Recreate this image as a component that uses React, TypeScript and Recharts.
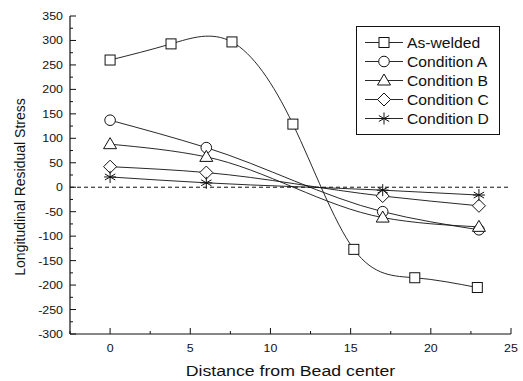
import React from "react";
import { LineChart, Line, XAxis, YAxis, ReferenceLine, Label } from "recharts";

document.body.style.margin = "0";

const X_TICKS = [-2.5, 0, 2.5, 5, 7.5, 10, 12.5, 15, 17.5, 20, 22.5, 25];
const Y_TICKS = [
  -300, -275, -250, -225, -200, -175, -150, -125, -100, -75, -50, -25, 0, 25,
  50, 75, 100, 125, 150, 175, 200, 225, 250, 275, 300, 325, 350,
];

const AS_WELDED = [
  { x: 0, y: 260 },
  { x: 3.8, y: 293 },
  { x: 7.6, y: 297 },
  { x: 11.4, y: 129 },
  { x: 15.2, y: -127 },
  { x: 19, y: -185 },
  { x: 22.9, y: -205 },
];
const COND_A = [
  { x: 0, y: 137 },
  { x: 6, y: 81 },
  { x: 17, y: -50 },
  { x: 23, y: -87 },
];
const COND_B = [
  { x: 0, y: 88 },
  { x: 6, y: 62 },
  { x: 17, y: -62 },
  { x: 23, y: -81 },
];
const COND_C = [
  { x: 0, y: 42 },
  { x: 6, y: 30 },
  { x: 17, y: -18 },
  { x: 23, y: -38 },
];
const COND_D = [
  { x: 0, y: 21 },
  { x: 6, y: 9 },
  { x: 17, y: -6 },
  { x: 23, y: -16 },
];

const FONT = "'Liberation Sans', Arial, sans-serif";
const INK = "#111";
// the scan is a little wider than tall, so horizontal text gets stretched
const STRETCH = 1.18;

type Shape = "square" | "circle" | "triangle" | "diamond" | "star";

function Marker({ cx, cy, shape }: { cx: number; cy: number; shape: Shape }) {
  const common = { stroke: INK, strokeWidth: 1, fill: "#fff" };
  if (shape === "square")
    return <rect x={cx - 5} y={cy - 5} width={10} height={10} {...common} />;
  if (shape === "circle") return <circle cx={cx} cy={cy} r={5.3} {...common} />;
  if (shape === "triangle")
    return (
      <polygon
        points={`${cx},${cy - 6.5} ${cx - 6.5},${cy + 4.5} ${cx + 6.5},${cy + 4.5}`}
        {...common}
      />
    );
  if (shape === "diamond")
    return (
      <polygon
        points={`${cx},${cy - 6.5} ${cx + 6.5},${cy} ${cx},${cy + 6.5} ${cx - 6.5},${cy}`}
        {...common}
      />
    );
  const r = 6;
  const dx = r * Math.cos(Math.PI / 6);
  const dy = r * Math.sin(Math.PI / 6);
  return (
    <g stroke={INK} strokeWidth={1}>
      <line x1={cx} y1={cy - r} x2={cx} y2={cy + r} />
      <line x1={cx - dx} y1={cy - dy} x2={cx + dx} y2={cy + dy} />
      <line x1={cx - dx} y1={cy + dy} x2={cx + dx} y2={cy - dy} />
      <line x1={cx - r} y1={cy} x2={cx + r} y2={cy} />
    </g>
  );
}

const SERIES: {
  name: string;
  data: { x: number; y: number }[];
  shape: Shape;
  curve: "natural" | "monotoneX";
}[] = [
  { name: "As-welded", data: AS_WELDED, shape: "square", curve: "natural" },
  { name: "Condition A", data: COND_A, shape: "circle", curve: "monotoneX" },
  { name: "Condition B", data: COND_B, shape: "triangle", curve: "monotoneX" },
  { name: "Condition C", data: COND_C, shape: "diamond", curve: "monotoneX" },
  { name: "Condition D", data: COND_D, shape: "star", curve: "monotoneX" },
];

const isMajorX = (v: number) => v % 5 === 0;
const isMajorY = (v: number) => v % 50 === 0;

function WideText({
  x,
  y,
  anchor,
  size,
  children,
}: {
  x: number;
  y: number;
  anchor: "start" | "middle" | "end";
  size: number;
  children: React.ReactNode;
}) {
  return (
    <text
      transform={`translate(${x} ${y}) scale(${STRETCH} 1)`}
      textAnchor={anchor}
      fontSize={size}
      fill={INK}
      fontFamily={FONT}
    >
      {children}
    </text>
  );
}

// eslint-disable-next-line @typescript-eslint/no-explicit-any
const BottomTick = ({ x, y, payload }: any) => {
  const major = isMajorX(payload.value);
  return (
    <g>
      <line x1={x} x2={x} y1={y} y2={y - (major ? 6 : 3)} stroke={INK} />
      {major && (
        <WideText x={x} y={y + 18} anchor="middle" size={10.5}>
          {payload.value}
        </WideText>
      )}
    </g>
  );
};
// eslint-disable-next-line @typescript-eslint/no-explicit-any
const TopTick = ({ x, y, payload }: any) => (
  <line x1={x} x2={x} y1={y} y2={y + (isMajorX(payload.value) ? 6 : 3)} stroke={INK} />
);
// eslint-disable-next-line @typescript-eslint/no-explicit-any
const LeftTick = ({ x, y, payload }: any) => {
  const major = isMajorY(payload.value);
  return (
    <g>
      <line x1={x} x2={x + (major ? 6 : 3)} y1={y} y2={y} stroke={INK} />
      {major && (
        <WideText x={x - 7} y={y + 4} anchor="end" size={10.5}>
          {payload.value}
        </WideText>
      )}
    </g>
  );
};
// eslint-disable-next-line @typescript-eslint/no-explicit-any
const RightTick = ({ x, y, payload }: any) => (
  <line x1={x} x2={x - (isMajorY(payload.value) ? 6 : 3)} y1={y} y2={y} stroke={INK} />
);

function LegendBox() {
  return (
    <div
      style={{
        position: "absolute",
        left: 356,
        top: 26,
        width: 144,
        height: 109,
        border: `1px solid ${INK}`,
        background: "#fff",
        fontFamily: FONT,
        fontSize: 14.5,
        color: INK,
        boxSizing: "border-box",
        paddingTop: 6,
      }}
    >
      {SERIES.map((s) => (
        <div key={s.name} style={{ display: "flex", alignItems: "center", height: 19 }}>
          <svg width={50} height={19} style={{ display: "block", flex: "none" }}>
            <line x1={8} x2={46} y1={9.5} y2={9.5} stroke={INK} strokeWidth={0.9} />
            <Marker cx={27} cy={9.5} shape={s.shape} />
          </svg>
          <span
            style={{
              display: "inline-block",
              whiteSpace: "nowrap",
              transform: "scaleX(1.08)",
              transformOrigin: "left center",
            }}
          >
            {s.name}
          </span>
        </div>
      ))}
    </div>
  );
}

export default function App() {
  return (
    <div style={{ position: "relative", width: 523, height: 381, background: "#fff" }}>
      <LineChart width={523} height={381} margin={{ top: 16, right: 12, bottom: 0, left: 0 }}>
        <XAxis
          type="number"
          dataKey="x"
          domain={[-2.5, 25]}
          ticks={X_TICKS}
          interval={0}
          allowDataOverflow
          height={47}
          tickSize={0}
          tickMargin={0}
          tickLine={false}
          axisLine={{ stroke: INK, strokeWidth: 1.2 }}
          tick={<BottomTick />}
        >
          <Label
            content={({ viewBox }: any) => (
              <WideText x={viewBox.x + viewBox.width / 2} y={376} anchor="middle" size={15}>
                Distance from Bead center
              </WideText>
            )}
          />
        </XAxis>
        <XAxis
          xAxisId="top"
          orientation="top"
          type="number"
          domain={[-2.5, 25]}
          ticks={X_TICKS}
          interval={0}
          allowDataOverflow
          height={0}
          tickSize={0}
          tickMargin={0}
          tickLine={false}
          axisLine={{ stroke: INK, strokeWidth: 1.2 }}
          tick={<TopTick />}
        />
        <YAxis
          type="number"
          domain={[-300, 350]}
          ticks={Y_TICKS}
          interval={0}
          allowDataOverflow
          width={70}
          tickSize={0}
          tickMargin={0}
          tickLine={false}
          axisLine={{ stroke: INK, strokeWidth: 1.2 }}
          tick={<LeftTick />}
        >
          <Label
            content={() => (
              <text
                x={25}
                y={187}
                transform="rotate(-90 25 187)"
                textAnchor="middle"
                fontSize={14}
                fontFamily={FONT}
                fill={INK}
              >
                Longitudinal Residual Stress
              </text>
            )}
          />
        </YAxis>
        <YAxis
          yAxisId="right"
          orientation="right"
          type="number"
          domain={[-300, 350]}
          ticks={Y_TICKS}
          interval={0}
          allowDataOverflow
          width={0}
          tickSize={0}
          tickMargin={0}
          tickLine={false}
          axisLine={{ stroke: INK, strokeWidth: 1.2 }}
          tick={<RightTick />}
        />
        <ReferenceLine y={0} stroke={INK} strokeWidth={1} strokeDasharray="4 3" />
        {SERIES.map((s) => (
          <Line
            key={s.name}
            data={s.data}
            dataKey="y"
            name={s.name}
            type={s.curve}
            stroke={INK}
            strokeWidth={0.9}
            isAnimationActive={false}
            // eslint-disable-next-line @typescript-eslint/no-explicit-any
            dot={(p: any) => <Marker key={p.index} cx={p.cx} cy={p.cy} shape={s.shape} />}
            activeDot={false}
          />
        ))}
      </LineChart>
      <LegendBox />
    </div>
  );
}
